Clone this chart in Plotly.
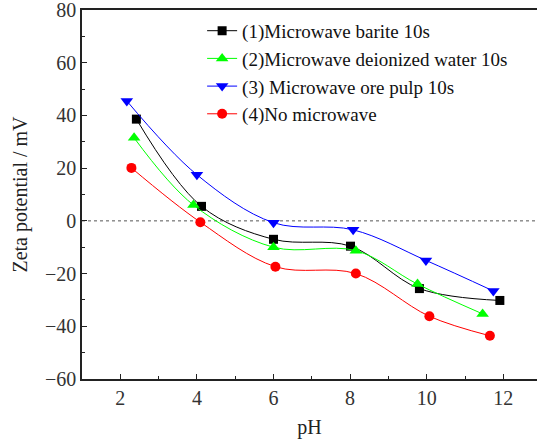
import plotly.graph_objects as go

# Data
names = ["(1)Microwave barite 10s", "(2)Microwave deionized water 10s",
         "(3) Microwave ore pulp 10s", "(4)No microwave"]
ph1 = [2.42, 4.12, 6.0, 8.01, 9.81, 11.91]
zeta1 = [38.6, 5.5, -7.0, -9.6, -25.7, -30.2]
ph2 = [2.36, 3.91, 6.0, 8.15, 9.76, 11.46]
zeta2 = [31.5, 6.0, -10.0, -11.3, -24.0, -35.3]
ph3 = [2.17, 4.0, 6.0, 8.08, 9.98, 11.74]
zeta3 = [45.5, 17.5, -0.7, -3.4, -15.0, -26.6]
ph4 = [2.29, 4.09, 6.05, 8.15, 10.07, 11.65]
zeta4 = [20.1, -0.5, -17.4, -20.0, -36.2, -43.6]

colors = ["#000000", "#00ff00", "#0000ff", "#ff0000"]
symbols = ["square", "triangle-up", "triangle-down", "circle"]
sizes = [9, 11, 11, 10]
xs = [ph1, ph2, ph3, ph4]
ys = [zeta1, zeta2, zeta3, zeta4]

fig = go.Figure()
for n, x, y, c, s, sz in zip(names, xs, ys, colors, symbols, sizes):
    fig.add_trace(go.Scatter(
        x=x, y=y, name=n, mode="lines+markers",
        line=dict(color=c, width=1, shape="spline", smoothing=1.0),
        marker=dict(color=c, symbol=s, size=sz, line=dict(width=0)),
    ))

fig.add_hline(y=0, line=dict(color="#555555", width=1, dash="dot"), layer="below")

font = "Liberation Serif"
fig.update_layout(
    width=537, height=443,
    margin=dict(l=82, r=0, t=10, b=64, autoexpand=False),
    paper_bgcolor="white", plot_bgcolor="white",
    font=dict(family=font, size=20, color="#222222"),
    showlegend=True,
    legend=dict(x=0.264, y=0.995, xanchor="left", yanchor="top",
                bgcolor="rgba(0,0,0,0)", borderwidth=0,
                font=dict(family=font, size=19, color="#111111"),
                tracegroupgap=0, itemwidth=30),
    xaxis=dict(range=[1, 12.88], dtick=2, tick0=0, showgrid=False, zeroline=False,
               showline=True, linecolor="#222222", linewidth=1.5, mirror=True,
               ticks="inside", ticklen=5, tickwidth=1.2, tickcolor="#222222",
               minor=dict(dtick=1, ticks="inside", ticklen=3, tickcolor="#222222"),
               title=dict(text="pH", font=dict(family=font, size=20, color="#222222"), standoff=12),
               tickfont=dict(family=font, size=20, color="#333333"),
               ticklabeloverflow="allow", automargin=False),
    yaxis=dict(range=[-60, 80], dtick=20, showgrid=False, zeroline=False,
               showline=True, linecolor="#222222", linewidth=1.5, mirror=False,
               ticks="inside", ticklen=5, tickwidth=1.2, tickcolor="#222222",
               minor=dict(dtick=10, ticks="inside", ticklen=3, tickcolor="#222222"),
               title=dict(text="Zeta potential / mV", font=dict(family=font, size=20, color="#222222"), standoff=12),
               tickfont=dict(family=font, size=20, color="#333333"),
               ticklabeloverflow="allow", automargin=False),
)

fig.write_html("out.html", config={"displayModeBar": False},
               post_script="document.body.style.margin='0';")
